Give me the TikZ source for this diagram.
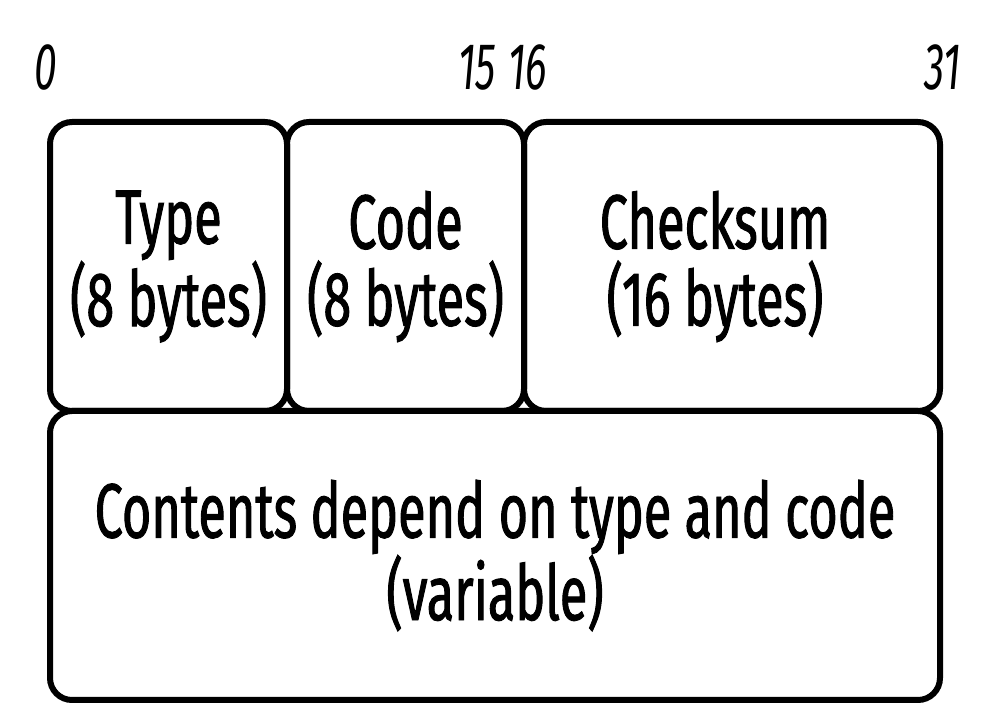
\documentclass[tikz,border=0pt]{standalone}
\usepackage{fontspec}
\setmainfont{Fira Sans}[FakeStretch=0.655,FakeBold=1.2]
\newfontfamily\bitfont{Fira Sans}[FakeStretch=0.62]
\usepackage{tikz}

\begin{document}
\begin{tikzpicture}[x=1pt,y=1pt,
  field/.style={draw,line width=6pt,rounded corners=22pt,rectangle,align=center,inner sep=0pt,
    font=\fontsize{77}{77}\selectfont},
  fieldtext/.style={align=center,inner sep=0pt,font=\fontsize{77}{77}\selectfont},
  bitlabel/.style={inner sep=0pt,font=\fontsize{66}{66}\bitfont\itshape}]
\useasboundingbox (0,0) rectangle (989,715);
% header fields
\node[field,minimum width=237,minimum height=289](type) at (168.5,448.5) {Type\\(8 bytes)};
\node[field,minimum width=237,minimum height=289](code) at (405.5,448.5) {Code\\(8 bytes)};
\node[field,minimum width=416,minimum height=289](checksum) at (732,448.5) {};
\node[fieldtext](checksumtext) at ([xshift=-17]checksum.center) {Checksum\\(16 bytes)};
\node[field,minimum width=890,minimum height=289](contents) at (495,159.5) {Contents depend on type and code\\(variable)};
% bit numbers
\foreach \x/\a/\b in %
{34/west/0,496/east/15,508/west/16,961/east/31} {
   \node[bitlabel,anchor=base \a](bit\b) at (\x,625) {\b};
}
\end{tikzpicture}
\end{document}
